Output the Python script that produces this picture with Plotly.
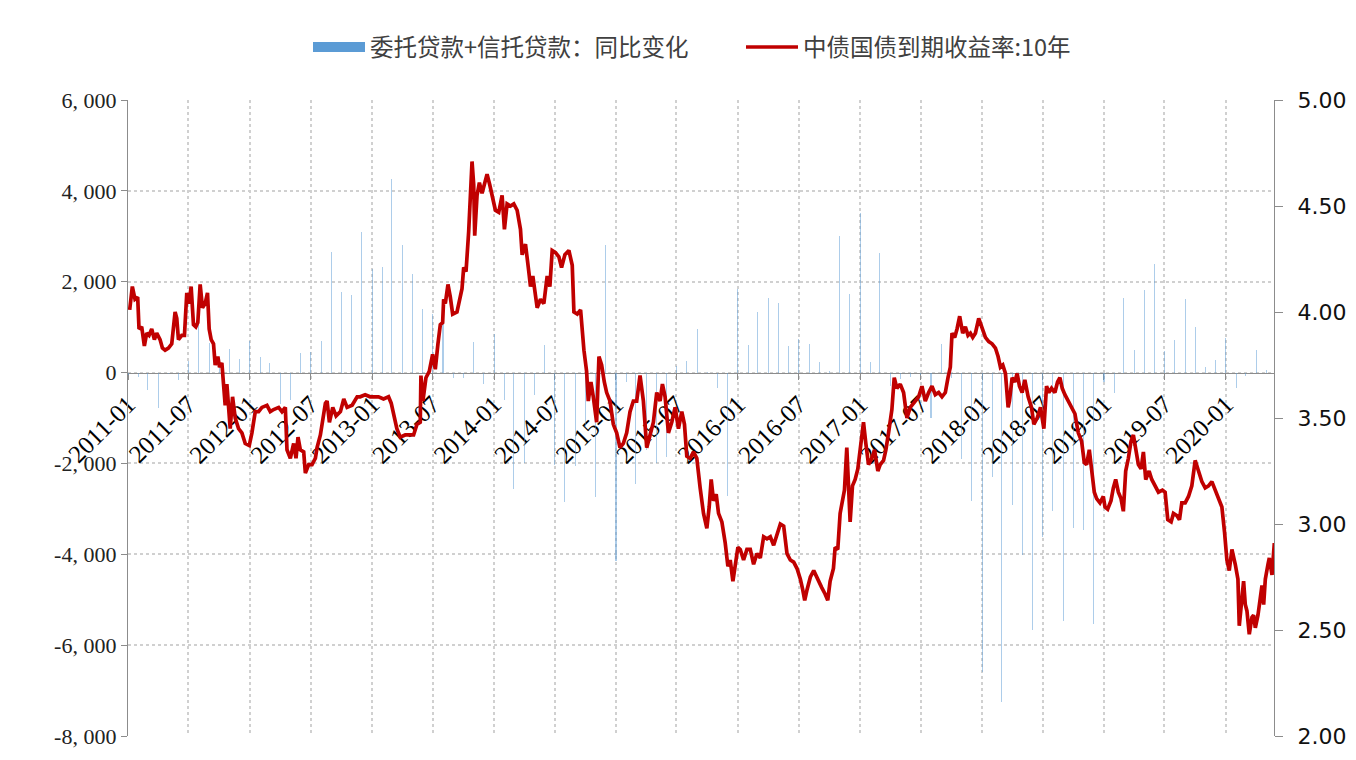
import pandas as pd
import plotly.graph_objects as go

# ---------------- data ----------------
bar_name = "委托贷款+信托贷款：同比变化"
line_name = "中债国债到期收益率:10年"

bar_months = pd.date_range("2011-01-01", periods=113, freq="MS")
bar_values = [
    -50, -100, -380, -770, -40, -160, 250, 1050, 650, 300,
    510, 300, 700, 350, 220, -700, -610, 430, 460, 700,
    2660, 1780, 1700, 3100, 2270, 2330, 4270, 2810, 2160, 1410,
    1300, 1150, -110, -120, 680, -250, 860, -605, -2570, -1980,
    -500, 600, -2030, -2850, -2060, -1200, -2740, 2810, -4140, -210,
    -2450, -1700, -2000, -1860, 144, 262, 970, 10, -350, -2725,
    1834, 616, 1340, 1650, 1540, 576, 750, 640, 222, 42,
    2996, 1738, 3522, 222, 2642, -290, -150, -92, -50, -1000,
    631, -130, -1910, -2835, -6600, -2292, -7250, -2917, -4017, -5675,
    -3620, -3040, -5465, -3430, -3475, -5530, -200, -460, 1635, 500,
    1810, 2390, 474, 710, 1620, 1010, 120, 280, 760, -350,
    -70, 500, 50,
]

# yield observations: days elapsed since 2011-01-01 and the yield (%)
yield_days = [
    5, 13, 21, 29, 33, 41, 49, 56, 63, 71, 79, 86, 96, 103, 111, 121, 131, 141, 146, 151,
    161, 169, 176, 183, 189, 196, 203, 209, 216, 223, 231, 238, 243, 249, 256, 261, 269, 274, 281, 286,
    291, 296, 301, 306, 313, 321, 331, 341, 351, 363, 371, 381, 391, 401, 416, 426, 436, 451, 461, 471,
    476, 486, 496, 503, 509, 516, 526, 531, 541, 551, 561, 566, 576, 591, 596, 603, 613, 623, 636, 646,
    656, 671, 686, 695, 710, 725, 735, 750, 765, 780, 788, 795, 805, 815, 830, 845, 855, 865, 875, 877,
    883, 892, 902, 912, 920, 928, 935, 942, 945, 950, 958, 965, 972, 985, 992, 1000, 1005, 1012, 1020, 1025,
    1030, 1035, 1038, 1045, 1052, 1060, 1065, 1075, 1083, 1090, 1100, 1110, 1120, 1127, 1135, 1145, 1155, 1165, 1175, 1180,
    1190, 1200, 1205, 1212, 1225, 1235, 1245, 1255, 1263, 1270, 1280, 1290, 1298, 1308, 1320, 1330, 1335, 1345, 1355, 1365,
    1373, 1378, 1386, 1393, 1403, 1410, 1418, 1426, 1433, 1443, 1453, 1463, 1473, 1483, 1493, 1503, 1513, 1523, 1533, 1543,
    1553, 1563, 1573, 1583, 1593, 1600, 1608, 1618, 1628, 1638, 1648, 1658, 1666, 1673, 1683, 1693, 1703, 1713, 1723, 1733,
    1740, 1746, 1753, 1761, 1768, 1778, 1788, 1796, 1803, 1811, 1818, 1826, 1833, 1843, 1853, 1863, 1873, 1883, 1893, 1903,
    1913, 1923, 1933, 1943, 1953, 1963, 1973, 1983, 1993, 2003, 2013, 2020, 2026, 2033, 2043, 2053, 2067, 2077, 2087, 2095,
    2102, 2112, 2117, 2125, 2132, 2137, 2145, 2152, 2157, 2162, 2169, 2177, 2185, 2195, 2202, 2209, 2217, 2227, 2235, 2245,
    2252, 2262, 2269, 2277, 2287, 2294, 2302, 2312, 2322, 2332, 2342, 2357, 2367, 2377, 2387, 2397, 2407, 2417, 2427, 2437,
    2447, 2455, 2462, 2467, 2475, 2482, 2490, 2499, 2507, 2515, 2522, 2529, 2537, 2547, 2557, 2567, 2577, 2587, 2597, 2605,
    2612, 2619, 2627, 2635, 2639, 2647, 2655, 2662, 2669, 2677, 2685, 2695, 2705, 2712, 2722, 2732, 2742, 2750, 2757, 2765,
    2775, 2783, 2790, 2797, 2805, 2815, 2825, 2835, 2845, 2855, 2863, 2870, 2878, 2885, 2893, 2900, 2910, 2920, 2925, 2933,
    2943, 2950, 2957, 2965, 2973, 2980, 2987, 2995, 3003, 3010, 3017, 3025, 3033, 3040, 3047, 3057, 3065, 3075, 3085, 3097,
    3105, 3113, 3123, 3130, 3140, 3148, 3155, 3165, 3175, 3185, 3195, 3205, 3215, 3225, 3235, 3245, 3255, 3265, 3275, 3283,
    3290, 3297, 3305, 3315, 3323, 3327, 3333, 3340, 3345, 3350, 3357, 3365, 3370, 3375, 3383, 3390, 3395, 3400, 3405, 3413,
    3417, 3425, 3432,
]
yield_values = [
    4.01, 4.12, 4.06, 4.07, 3.92, 3.93, 3.84, 3.90, 3.89, 3.92, 3.87, 3.90, 3.87, 3.83, 3.82, 3.83, 3.85, 4.00, 3.97, 3.87,
    3.89, 3.89, 4.09, 4.04, 4.12, 3.94, 3.93, 3.95, 4.13, 4.02, 4.04, 4.09, 3.92, 3.87, 3.85, 3.75, 3.79, 3.74, 3.76, 3.65,
    3.56, 3.66, 3.57, 3.45, 3.60, 3.50, 3.45, 3.43, 3.38, 3.37, 3.43, 3.53, 3.53, 3.55, 3.56, 3.53, 3.54, 3.55, 3.53, 3.55,
    3.35, 3.31, 3.38, 3.31, 3.41, 3.35, 3.34, 3.24, 3.28, 3.28, 3.31, 3.36, 3.42, 3.57, 3.58, 3.48, 3.55, 3.51, 3.53, 3.59,
    3.55, 3.56, 3.60, 3.60, 3.61, 3.60, 3.60, 3.60, 3.59, 3.60, 3.57, 3.52, 3.45, 3.41, 3.42, 3.42, 3.42, 3.47, 3.48, 3.70,
    3.58, 3.69, 3.72, 3.80, 3.73, 3.85, 3.94, 3.95, 4.06, 4.04, 4.13, 4.07, 3.99, 4.00, 4.06, 4.11, 4.21, 4.19, 4.38, 4.55,
    4.71, 4.60, 4.36, 4.55, 4.61, 4.56, 4.59, 4.65, 4.60, 4.55, 4.48, 4.47, 4.55, 4.39, 4.51, 4.50, 4.51, 4.48, 4.39, 4.27,
    4.32, 4.19, 4.12, 4.17, 4.02, 4.06, 4.04, 4.17, 4.12, 4.29, 4.28, 4.26, 4.21, 4.27, 4.29, 4.22, 4.00, 3.99, 4.01, 3.82,
    3.72, 3.58, 3.67, 3.60, 3.48, 3.79, 3.75, 3.67, 3.62, 3.58, 3.47, 3.43, 3.36, 3.38, 3.43, 3.53, 3.58, 3.58, 3.70, 3.58,
    3.36, 3.42, 3.48, 3.62, 3.58, 3.66, 3.60, 3.43, 3.48, 3.55, 3.45, 3.53, 3.47, 3.32, 3.31, 3.34, 3.31, 3.17, 3.05, 2.98,
    3.08, 3.21, 3.11, 3.14, 3.05, 3.01, 2.91, 2.80, 2.83, 2.73, 2.82, 2.89, 2.88, 2.83, 2.88, 2.88, 2.81, 2.86, 2.84, 2.94,
    2.93, 2.94, 2.90, 2.95, 3.00, 2.99, 2.86, 2.83, 2.82, 2.79, 2.74, 2.69, 2.64, 2.69, 2.75, 2.78, 2.73, 2.70, 2.67, 2.64,
    2.73, 2.79, 2.89, 2.88, 3.05, 3.10, 3.16, 3.36, 3.15, 3.01, 3.18, 3.21, 3.26, 3.40, 3.48, 3.38, 3.28, 3.31, 3.35, 3.25,
    3.28, 3.30, 3.35, 3.43, 3.54, 3.69, 3.64, 3.66, 3.62, 3.50, 3.55, 3.58, 3.60, 3.65, 3.58, 3.62, 3.65, 3.61, 3.62, 3.60,
    3.62, 3.69, 3.74, 3.90, 3.88, 3.92, 3.98, 3.90, 3.93, 3.89, 3.90, 3.88, 3.90, 3.97, 3.92, 3.88, 3.86, 3.85, 3.83, 3.79,
    3.74, 3.75, 3.71, 3.55, 3.58, 3.69, 3.67, 3.71, 3.65, 3.62, 3.68, 3.60, 3.55, 3.47, 3.50, 3.55, 3.45, 3.65, 3.62, 3.64,
    3.62, 3.67, 3.69, 3.64, 3.61, 3.58, 3.55, 3.52, 3.43, 3.39, 3.29, 3.28, 3.35, 3.25, 3.15, 3.12, 3.10, 3.13, 3.08, 3.07,
    3.11, 3.17, 3.21, 3.15, 3.12, 3.06, 3.25, 3.31, 3.39, 3.42, 3.36, 3.28, 3.26, 3.34, 3.21, 3.25, 3.21, 3.18, 3.15, 3.16,
    3.15, 3.02, 3.01, 3.05, 3.04, 3.02, 3.10, 3.10, 3.13, 3.18, 3.30, 3.25, 3.20, 3.17, 3.18, 3.20, 3.16, 3.12, 3.08, 2.96,
    2.83, 2.78, 2.88, 2.81, 2.74, 2.52, 2.64, 2.73, 2.62, 2.59, 2.48, 2.56, 2.57, 2.51, 2.57, 2.64, 2.71, 2.62, 2.74, 2.81,
    2.84, 2.76, 2.91,
]

x_tick_vals = ["2011-01-01", "2011-07-01", "2012-01-01", "2012-07-01", "2013-01-01", "2013-07-01",
               "2014-01-01", "2014-07-01", "2015-01-01", "2015-07-01", "2016-01-01", "2016-07-01",
               "2017-01-01", "2017-07-01", "2018-01-01", "2018-07-01", "2019-01-01", "2019-07-01",
               "2020-01-01"]
x_tick_text = ["2011-01", "2011-07", "2012-01", "2012-07", "2013-01", "2013-07",
               "2014-01", "2014-07", "2015-01", "2015-07", "2016-01", "2016-07",
               "2017-01", "2017-07", "2018-01", "2018-07", "2019-01", "2019-07",
               "2020-01"]
left_tick_vals = [6000, 4000, 2000, 0, -2000, -4000, -6000, -8000]
left_tick_text = ["6, 000", "4, 000", "2, 000", "0", "-2, 000", "-4, 000", "-6, 000", "-8, 000"]
right_tick_vals = [5.0, 4.5, 4.0, 3.5, 3.0, 2.5, 2.0]

# ---------------- figure ----------------
yield_dates = pd.Timestamp("2011-01-01") + pd.to_timedelta(yield_days, unit="D")

BLUE = "#5B9BD5"
RED = "#C00000"
GRID = "#D0D0D0"
AXIS = "#8C8C8C"

fig = go.Figure()
fig.add_trace(go.Bar(
    x=bar_months, y=bar_values, name=bar_name, showlegend=False,
    marker=dict(color="rgba(91,155,213,0.5)", line=dict(width=0)),
    width=3.2 * 86400000, yaxis="y",
))
# legend swatches (wide rectangle / line as in reference)
fig.add_trace(go.Scatter(x=[None], y=[None], mode="lines", name=bar_name,
                         line=dict(color=BLUE, width=14), yaxis="y"))
fig.add_trace(go.Scatter(x=[None], y=[None], mode="lines", name=line_name,
                         line=dict(color=RED, width=3.5), yaxis="y2"))
fig.add_trace(go.Scatter(
    x=yield_dates, y=yield_values, name=line_name, showlegend=False, mode="lines",
    line=dict(color=RED, width=3.7), yaxis="y2",
))

fig.update_layout(
    width=1356, height=760,
    margin=dict(l=128, r=82, t=100, b=24),
    paper_bgcolor="white", plot_bgcolor="white",
    bargap=0,
    showlegend=True,
    legend=dict(orientation="h", x=(308 - 128) / 1146, xanchor="left", y=1.083, yanchor="middle",
                font=dict(family="Noto Sans CJK SC", size=23.5, color="#404040"),
                itemwidth=52, entrywidth=366, traceorder="normal", bgcolor="rgba(0,0,0,0)"),
    xaxis=dict(
        type="date", range=["2011-01-01", "2020-05-24"],
        tickvals=x_tick_vals, ticktext=x_tick_text, tickangle=-45,
        tickfont=dict(family="Liberation Serif", size=25, color="#000000"),
        showgrid=True, gridcolor=GRID, griddash="dot", gridwidth=1.5,
        showline=True, linecolor=AXIS, linewidth=1.3,
        ticks="outside", ticklen=6, tickcolor=AXIS, tickwidth=1.3,
        anchor="free", position=8000 / 14000, layer="below traces",
        zeroline=False, automargin=False,
    ),
    yaxis=dict(
        range=[-8000, 6000], tickvals=left_tick_vals, ticktext=left_tick_text,
        tickfont=dict(family="Liberation Serif", size=22, color="#222222"),
        showgrid=True, gridcolor=GRID, griddash="dot", gridwidth=1.5,
        showline=True, linecolor=AXIS, linewidth=1.3,
        ticks="outside", ticklen=6, tickcolor=AXIS, tickwidth=1.3,
        zeroline=False, automargin=False,
    ),
    yaxis2=dict(
        range=[2.0, 5.0], tickvals=right_tick_vals, tickformat=".2f",
        overlaying="y", side="right",
        tickfont=dict(family="DejaVu Sans", size=22, color="#111111"),
        showgrid=False, zeroline=False,
        showline=True, linecolor=AXIS, linewidth=1.3,
        ticks="outside", ticklen=8, tickcolor=AXIS, tickwidth=1.3,
        ticklabelstandoff=10, automargin=False,
    ),
)

fig.write_html("out.html")
